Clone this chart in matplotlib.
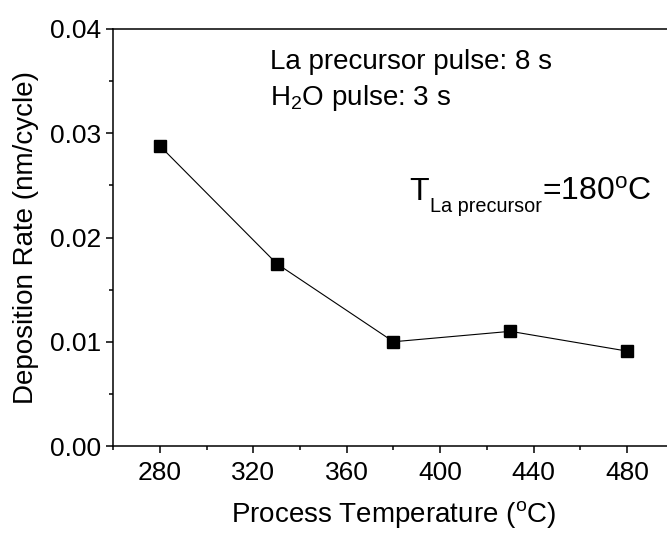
import matplotlib
matplotlib.use("Agg")
import matplotlib.pyplot as plt
from matplotlib.ticker import MultipleLocator, FormatStrFormatter

plt.rcParams["font.family"] = ["Liberation Sans", "DejaVu Sans"]
plt.rcParams["mathtext.fontset"] = "custom"
plt.rcParams["mathtext.rm"] = "Liberation Sans"
plt.rcParams["mathtext.it"] = "Liberation Sans:italic"

# growth rate vs. substrate temperature
temperature = [280, 330, 380, 430, 480]
rate = [0.0288, 0.0175, 0.0100, 0.0110, 0.0091]

W, H = 667, 533
fig = plt.figure(figsize=(W / 100, H / 100), dpi=100)
# axes runs slightly past the right edge of the figure
ax = fig.add_axes([113 / W, (H - 446) / H, (674 - 113) / W, (446 - 29) / H])

ax.plot(temperature, rate, color="black", lw=0.8, marker="s", ms=8.5,
        mfc="black", mec="black")

ax.set_xlim(260, 500)
ax.set_ylim(0, 0.04)
ax.xaxis.set_major_locator(MultipleLocator(40))
ax.xaxis.set_minor_locator(MultipleLocator(20))
ax.yaxis.set_major_locator(MultipleLocator(0.01))
ax.yaxis.set_minor_locator(MultipleLocator(0.005))
ax.yaxis.set_major_formatter(FormatStrFormatter("%.2f"))

for s in ax.spines.values():
    s.set_linewidth(1.1)
ax.tick_params(which="major", direction="out", length=5, width=1.1, labelsize=19)
ax.tick_params(which="minor", direction="out", length=3, width=1.1)
ax.tick_params(axis="x", pad=6)

ax.set_xlabel(r"Process Temperature ($^{\mathrm{o}}$C)", fontsize=20, labelpad=10)
ax.set_ylabel("Deposition Rate (nm/cycle)", fontsize=20, labelpad=8)


def put(x, y, s, size):
    # place text by pixel position (from top-left), baseline anchored
    fig.text(x / W, 1 - y / H, s, fontsize=size, va="baseline")


put(270, 69, "La precursor pulse: 8 s", 20)
put(270, 105, r"H$_{\mathrm{2}}$O pulse: 3 s", 20)

# source temperature label, built from pieces so the subscript stays small
put(409, 200, "T", 23)
put(430, 212, "La precursor", 14.3)
put(542, 200, r"=180$^{\mathrm{o}}$C", 23)

fig.savefig("out.png", dpi=100)
